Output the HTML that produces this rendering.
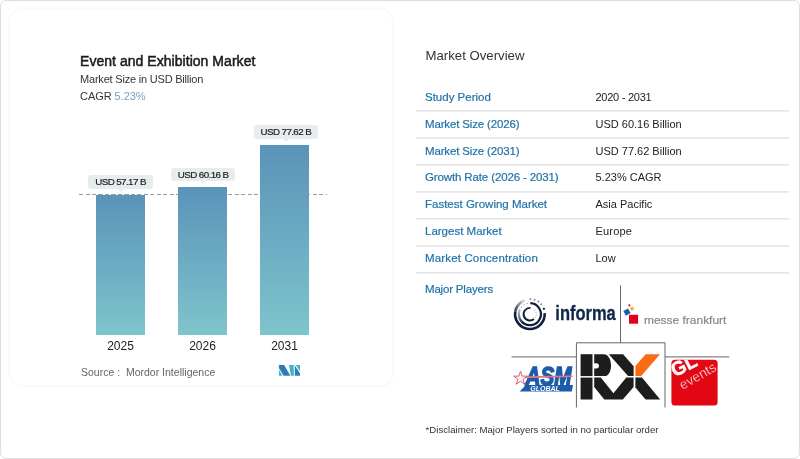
<!DOCTYPE html>
<html><head><meta charset="utf-8">
<style>
*{box-sizing:border-box;margin:0;padding:0}
html,body{width:800px;height:459px;overflow:hidden;background:#fff;font-family:"Liberation Sans",sans-serif;color:#222}
.outer{position:absolute;left:0;top:0;width:800px;height:459px;border:1.5px solid #dedede;border-radius:6px;background:#fff}
.card{position:absolute;left:10px;top:10px;width:381.5px;height:375.3px;border-radius:12px;background:#fff;box-shadow:0 0 4px rgba(0,0,0,0.07)}
.t{position:absolute;white-space:nowrap;line-height:1}
.title{left:80px;top:53.7px;font-size:14px;font-weight:normal;color:#1b1b1b;letter-spacing:0.04px;-webkit-text-stroke:0.5px #1b1b1b}
.sub{left:80px;top:73.5px;font-size:11px;color:#333;letter-spacing:-0.2px}
.cagr{left:80px;top:91px;font-size:11px;color:#333;letter-spacing:-0.05px}
.cagr span{color:#7ba3c4}
.bar{position:absolute;width:49px;background:linear-gradient(#5b93b9,#7ec4cc)}
.dash{position:absolute;left:79.3px;top:194.3px;width:248px;height:1px;background:repeating-linear-gradient(90deg,#9c9c9c 0,#9c9c9c 4px,transparent 4px,transparent 6.5px)}
.pill{position:absolute;height:13.6px;width:64.5px;background:#e7ecef;border-radius:3px;font-size:9.8px;text-align:center;line-height:14.2px;color:#1e1e1e;letter-spacing:-0.6px;-webkit-text-stroke:0.2px #1e1e1e}
.pill:after{content:"";position:absolute;left:50%;margin-left:-3px;top:13.6px;border:3px solid transparent;border-top:3px solid #e8edf0;border-bottom:0}
.yr{position:absolute;font-size:12px;width:49px;text-align:center;color:#222}
.src{left:81px;top:367px;font-size:10.5px;color:#666}
.mo{left:425.5px;top:49px;font-size:13.2px;color:#333}
.row{position:absolute;left:416px;width:373px;height:27px}
.line{position:absolute;left:416px;width:373px;height:2px;background:linear-gradient(#e2e2e2,#f1f1f1)}
.row .l{position:absolute;left:9px;top:7px;font-size:11.5px;color:#2073a9;white-space:nowrap;-webkit-text-stroke:0.2px #2073a9}
.row .v{position:absolute;left:179.5px;top:7px;font-size:11px;color:#222;white-space:nowrap}
.disc{left:425.6px;top:424.7px;font-size:9.62px;color:#333}
</style></head><body>
<div class="outer"></div>
<div class="card"></div>
<div class="t title">Event and Exhibition Market</div>
<div class="t sub">Market Size in USD Billion</div>
<div class="t cagr">CAGR <span>5.23%</span></div>

<div class="dash"></div>
<div class="bar" style="left:95.6px;top:194.5px;height:140.2px"></div>
<div class="bar" style="left:178px;top:187.3px;height:147.4px"></div>
<div class="bar" style="left:260px;top:144.7px;height:190px"></div>
<div class="pill" style="left:88.3px;top:175px">USD 57.17 B</div>
<div class="pill" style="left:170.9px;top:167.6px">USD 60.16 B</div>
<div class="pill" style="left:253.6px;top:125px">USD 77.62 B</div>
<div class="yr" style="left:96px;top:339px">2025</div>
<div class="yr" style="left:178px;top:339px">2026</div>
<div class="yr" style="left:260px;top:339px">2031</div>
<div class="t src">Source :&nbsp; Mordor Intelligence</div>
<svg width="24" height="13" viewBox="0 0 24 13" style="position:absolute;left:278px;top:364px">
<path d="M0.9 1H6.2L12.3 11.8H5.6L0.9 3.9Z" fill="#2a7dba"/>
<path d="M0.9 5.7L4.5 11.8H0.9Z" fill="#3fb6c5"/>
<path d="M11 1H15.8V11.8H12.9Z" fill="#3fb6c5"/>
<path d="M16.8 1.3L22 9.5V11.8H16.8Z" fill="#2a7dba"/>
<path d="M17.9 1H22V7.6Z" fill="#3fb6c5"/>
</svg>

<div class="t mo">Market Overview</div>
<div class="row" style="top:84px"><span class="l">Study Period</span><span class="v" style="letter-spacing:-0.25px">2020 - 2031</span></div>
<div class="row" style="top:111px"><span class="l" style="letter-spacing:-0.15px">Market Size (2026)</span><span class="v">USD 60.16 Billion</span></div>
<div class="row" style="top:138px"><span class="l" style="letter-spacing:-0.15px">Market Size (2031)</span><span class="v">USD 77.62 Billion</span></div>
<div class="row" style="top:164px"><span class="l" style="letter-spacing:-0.13px">Growth Rate (2026 - 2031)</span><span class="v">5.23% CAGR</span></div>
<div class="row" style="top:191px"><span class="l">Fastest Growing Market</span><span class="v">Asia Pacific</span></div>
<div class="row" style="top:218px"><span class="l">Largest Market</span><span class="v" style="letter-spacing:0.2px">Europe</span></div>
<div class="row" style="top:245px"><span class="l" style="letter-spacing:0.15px">Market Concentration</span><span class="v">Low</span></div>
<div class="row" style="top:276px"><span class="l" style="letter-spacing:-0.18px">Major Players</span></div>
<div class="line" style="top:110px"></div>
<div class="line" style="top:137px"></div>
<div class="line" style="top:164px"></div>
<div class="line" style="top:190.5px"></div>
<div class="line" style="top:217.5px"></div>
<div class="line" style="top:244.5px"></div>
<div class="line" style="top:271.5px"></div>
<div class="t disc">*Disclaimer: Major Players sorted in no particular order</div>

<svg class="logos" width="800" height="459" viewBox="0 0 800 459" style="position:absolute;left:0;top:0">
<defs>
<linearGradient id="gOut" x1="0" y1="1" x2="0.3" y2="0"><stop offset="0" stop-color="#0e1f3d"/><stop offset="0.55" stop-color="#0e1f3d"/><stop offset="1" stop-color="#0e1f3d" stop-opacity="0.05"/></linearGradient>
<linearGradient id="gMid" x1="1" y1="0.5" x2="0" y2="0.4"><stop offset="0" stop-color="#0e1f3d"/><stop offset="0.5" stop-color="#0e1f3d"/><stop offset="1" stop-color="#0e1f3d" stop-opacity="0.1"/></linearGradient>
<clipPath id="glclip"><rect x="671.4" y="359.8" width="46.2" height="45.8" rx="3.5"/></clipPath>
</defs>
<!-- connector lines -->
<g stroke="#666" stroke-width="1" fill="none">
<path d="M620.5 285.4V342.8"/>
<path d="M576.4 407.5V342.8H665V407.5"/>
<path d="M511.5 356.9H576.4"/>
<path d="M665 356.9H729.3"/>
</g>
<!-- informa -->
<g fill="none">
<path d="M544.66 313.17A14.8 14.8 0 1 1 515.32 311.63" stroke="#0e1f3d" stroke-width="2.6" stroke-opacity="1.00" />
<path d="M515.32 311.63A14.8 14.8 0 0 1 515.58 310.47" stroke="#0e1f3d" stroke-width="2.6" stroke-opacity="0.97" />
<path d="M515.56 310.55A14.8 14.8 0 0 1 515.90 309.41" stroke="#0e1f3d" stroke-width="2.6" stroke-opacity="0.90" />
<path d="M515.87 309.49A14.8 14.8 0 0 1 516.29 308.38" stroke="#0e1f3d" stroke-width="2.6" stroke-opacity="0.84" />
<path d="M516.26 308.45A14.8 14.8 0 0 1 516.77 307.38" stroke="#0e1f3d" stroke-width="2.6" stroke-opacity="0.77" />
<path d="M516.73 307.45A14.8 14.8 0 0 1 517.31 306.42" stroke="#0e1f3d" stroke-width="2.6" stroke-opacity="0.70" />
<path d="M517.27 306.48A14.8 14.8 0 0 1 517.93 305.50" stroke="#0e1f3d" stroke-width="2.6" stroke-opacity="0.64" />
<path d="M517.88 305.56A14.8 14.8 0 0 1 518.61 304.63" stroke="#0e1f3d" stroke-width="2.6" stroke-opacity="0.57" />
<path d="M518.56 304.69A14.8 14.8 0 0 1 519.36 303.81" stroke="#0e1f3d" stroke-width="2.6" stroke-opacity="0.51" />
<path d="M519.31 303.87A14.8 14.8 0 0 1 520.17 303.05" stroke="#0e1f3d" stroke-width="2.6" stroke-opacity="0.44" />
<path d="M520.11 303.10A14.8 14.8 0 0 1 521.03 302.36" stroke="#0e1f3d" stroke-width="2.6" stroke-opacity="0.38" />
<path d="M520.96 302.40A14.8 14.8 0 0 1 521.94 301.73" stroke="#0e1f3d" stroke-width="2.6" stroke-opacity="0.31" />
<path d="M521.87 301.77A14.8 14.8 0 0 1 522.89 301.17" stroke="#0e1f3d" stroke-width="2.6" stroke-opacity="0.24" />
<path d="M522.82 301.20A14.8 14.8 0 0 1 523.88 300.68" stroke="#0e1f3d" stroke-width="2.6" stroke-opacity="0.18" />
<path d="M523.81 300.71A14.8 14.8 0 0 1 524.91 300.27" stroke="#0e1f3d" stroke-width="2.6" stroke-opacity="0.11" />
<path d="M530.28 303.21A11 11 0 1 1 521.47 321.27" stroke="#0e1f3d" stroke-width="2.2" stroke-opacity="1.00" />
<path d="M521.47 321.27A11 11 0 0 1 520.90 320.52" stroke="#0e1f3d" stroke-width="2.2" stroke-opacity="0.97" />
<path d="M520.93 320.57A11 11 0 0 1 520.41 319.77" stroke="#0e1f3d" stroke-width="2.2" stroke-opacity="0.91" />
<path d="M520.44 319.82A11 11 0 0 1 519.99 318.98" stroke="#0e1f3d" stroke-width="2.2" stroke-opacity="0.85" />
<path d="M520.02 319.03A11 11 0 0 1 519.64 318.17" stroke="#0e1f3d" stroke-width="2.2" stroke-opacity="0.79" />
<path d="M519.66 318.22A11 11 0 0 1 519.35 317.32" stroke="#0e1f3d" stroke-width="2.2" stroke-opacity="0.73" />
<path d="M519.37 317.38A11 11 0 0 1 519.13 316.46" stroke="#0e1f3d" stroke-width="2.2" stroke-opacity="0.67" />
<path d="M519.15 316.51A11 11 0 0 1 518.99 315.58" stroke="#0e1f3d" stroke-width="2.2" stroke-opacity="0.61" />
<path d="M518.99 315.64A11 11 0 0 1 518.91 314.69" stroke="#0e1f3d" stroke-width="2.2" stroke-opacity="0.54" />
<path d="M518.91 314.75A11 11 0 0 1 518.91 313.80" stroke="#0e1f3d" stroke-width="2.2" stroke-opacity="0.48" />
<path d="M518.91 313.86A11 11 0 0 1 518.98 312.91" stroke="#0e1f3d" stroke-width="2.2" stroke-opacity="0.42" />
<path d="M518.97 312.97A11 11 0 0 1 519.12 312.03" stroke="#0e1f3d" stroke-width="2.2" stroke-opacity="0.36" />
<path d="M519.10 312.09A11 11 0 0 1 519.33 311.17" stroke="#0e1f3d" stroke-width="2.2" stroke-opacity="0.30" />
<path d="M519.31 311.22A11 11 0 0 1 519.61 310.32" stroke="#0e1f3d" stroke-width="2.2" stroke-opacity="0.24" />
<path d="M519.59 310.37A11 11 0 0 1 519.96 309.50" stroke="#0e1f3d" stroke-width="2.2" stroke-opacity="0.18" />
<path d="M530.45 307.92A6.3 6.3 0 1 0 533.95 319.03" stroke="#0e1f3d" stroke-width="1.9" stroke-opacity="1.00" />
</g>
<circle cx="530.43" cy="299.01" r="1.05" fill="#8a93a3" fill-opacity="1"/>
<circle cx="534.60" cy="299.74" r="1.05" fill="#8a93a3" fill-opacity="1"/>
<circle cx="538.40" cy="301.60" r="1.05" fill="#8a93a3" fill-opacity="1"/>
<circle cx="541.37" cy="304.23" r="1.05" fill="#8a93a3" fill-opacity="1"/>
<circle cx="543.90" cy="308.82" r="1.15" fill="#0e1f3d" fill-opacity="1"/>
<circle cx="527.24" cy="303.53" r="0.6" fill="#7f8898" fill-opacity="1"/>
<circle cx="524.07" cy="304.87" r="0.6" fill="#7f8898" fill-opacity="1"/>
<circle cx="521.47" cy="307.13" r="0.6" fill="#7f8898" fill-opacity="1"/>
<circle cx="519.70" cy="310.08" r="0.6" fill="#7f8898" fill-opacity="1"/>
<circle cx="535.24" cy="317.54" r="0.55" fill="#9aa1ae" fill-opacity="1"/>
<circle cx="536.14" cy="315.08" r="0.55" fill="#9aa1ae" fill-opacity="1"/>
<circle cx="535.96" cy="312.46" r="0.55" fill="#9aa1ae" fill-opacity="1"/>
<circle cx="534.73" cy="310.15" r="0.55" fill="#9aa1ae" fill-opacity="1"/>

<text x="555.3" y="320.4" font-family="'Liberation Sans',sans-serif" font-weight="bold" font-size="20" fill="#12264a" stroke="#12264a" stroke-width="0.3" textLength="60.5" lengthAdjust="spacingAndGlyphs">informa</text>
<!-- messe frankfurt -->
<rect x="629" y="314.8" width="9.1" height="8.9" fill="#e2001a"/>
<rect x="-2.7" y="-2.7" width="5.4" height="5.4" fill="#1c5ea9" transform="translate(627 312.1) rotate(-30)"/>
<rect x="-1.6" y="-1.6" width="3.2" height="3.2" fill="#f0b229" transform="translate(632 308.6) rotate(-30)"/>
<circle cx="629.4" cy="305.3" r="1.1" fill="#a3193f"/>
<text x="644" y="323.9" font-family="'Liberation Sans',sans-serif" font-size="11.5" fill="#888" stroke="#888" stroke-width="0.2" textLength="82.4" lengthAdjust="spacingAndGlyphs">messe frankfurt</text>
<!-- ASM Global -->
<g>
<text x="525.5" y="385" font-family="'Liberation Sans',sans-serif" font-weight="bold" font-style="italic" font-size="26" fill="#1b5cab" stroke="#1b5cab" stroke-width="1.5" textLength="46" lengthAdjust="spacingAndGlyphs">ASM</text>
<path d="M525.8 385 H573 L571.8 391.4 H519.7 Z" fill="#1b5cab"/>
<text x="530.3" y="390.9" font-family="'Liberation Sans',sans-serif" font-weight="bold" font-style="italic" font-size="7.2" fill="#fff" textLength="29.6" lengthAdjust="spacingAndGlyphs">GLOBAL</text>
<path d="M521 376.2 L572.5 375.4 L572.5 377 L521 378.2Z" fill="#e8708c"/>
<path transform="translate(520.5 377.4) scale(1.08) translate(-520.5 -376.4)" d="M520.5 370.6 L522 375.2 L526.8 375.2 L522.9 378.1 L524.4 382.8 L520.5 379.9 L516.6 382.8 L518.1 378.1 L514.2 375.2 L519 375.2Z" fill="#fdf3f5" stroke="#dc5a76" stroke-width="0.9"/>
</g>
<!-- RX -->
<g fill="#1d1d1b">
<rect x="580.6" y="354.2" width="11.9" height="21.9"/>
<rect x="580.6" y="377.6" width="11.9" height="21.9"/>
<path d="M594.2 354.2 H603.5 C608 354.2 611 359 611 365.5 C611 371.5 608.5 376.1 604.8 376.1 H594.2 V368.5 H596.3 A2.65 2.65 0 0 0 596.3 363.2 H594.2Z"/>
<path d="M608.8 354.2 H623.1 L633.6 366.2 V376.1 H628.1Z"/>
<path d="M594.2 377.6 H600.8 L613.4 393.3 L626.3 377.6 H633.6 V387 L622.8 399.5 H604.3 L594.2 387Z"/>
<path d="M635.4 377.6 H642 L660.2 399.5 H645.6 L635.4 387.5Z"/>
</g>
<path d="M645.6 354.2 H660 L641.2 376.1 H635.4 V366Z" fill="#fb6a14"/>
<!-- GL events -->
<g font-family="'Liberation Sans',sans-serif">
<text transform="translate(682.6 390) rotate(-30)" font-size="13.7" fill="#e30613">events</text>
<rect x="671.4" y="359.8" width="46.2" height="45.8" rx="3.5" fill="#e30613"/>
<g clip-path="url(#glclip)">
<text transform="translate(682.6 390) rotate(-30)" font-size="13.7" fill="#fff" stroke="#e30613" stroke-width="0.35">events</text>
<text transform="translate(675 377.3) rotate(-27)" font-size="19.5" font-weight="bold" fill="#fff" stroke="#fff" stroke-width="0.5" textLength="26.5" lengthAdjust="spacingAndGlyphs">GL</text>
</g>
</g>
</svg>
</body></html>
